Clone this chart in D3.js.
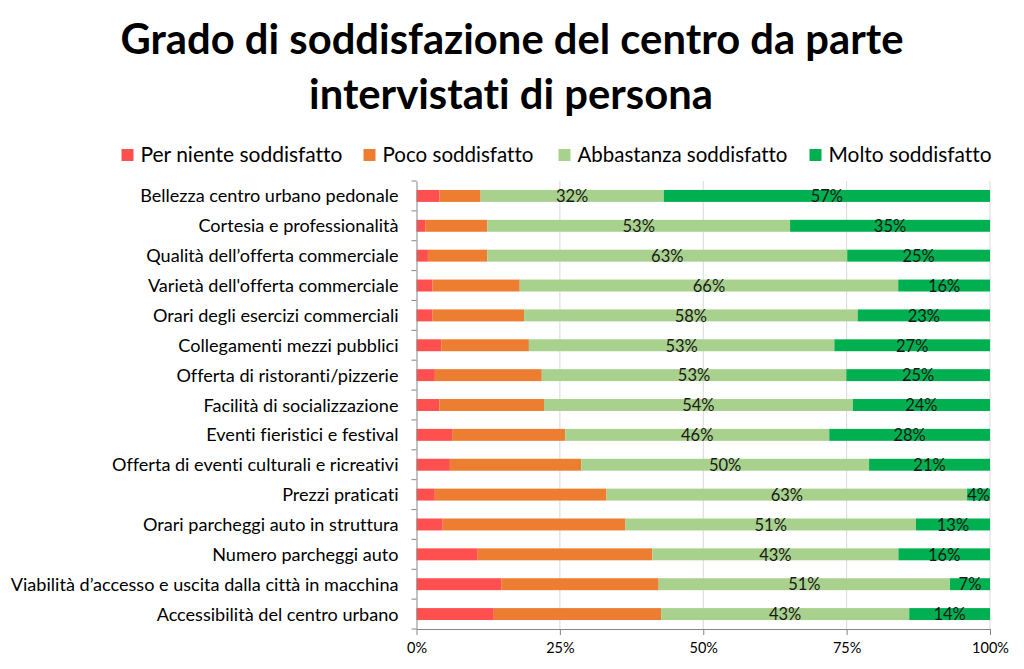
<!DOCTYPE html>
<html>
<head>
<meta charset="utf-8">
<script src="https://cdn.jsdelivr.net/npm/d3@7/dist/d3.min.js"></script>
<style>
  html, body { margin: 0; padding: 0; background: #fff; }
  svg { display: block; font-family: Lato, "Open Sans", sans-serif; font-variant-ligatures: none; font-feature-settings: "liga" 0, "clig" 0; }
</style>
</head>
<body>
<svg id="chart" width="1024" height="669"></svg>
<script>
// ---- data ----
const titleLines = ["Grado di soddisfazione del centro da parte", "intervistati di persona"];
const categories = [
  "Bellezza centro urbano pedonale",
  "Cortesia e professionalità ",
  "Qualità dell\u2019offerta commerciale",
  "Varietà dell'offerta commerciale",
  "Orari degli esercizi commerciali",
  "Collegamenti mezzi pubblici",
  "Offerta di ristoranti/pizzerie",
  "Facilità di socializzazione",
  "Eventi fieristici e festival ",
  "Offerta di eventi culturali e ricreativi",
  "Prezzi praticati",
  "Orari parcheggi auto in struttura",
  "Numero parcheggi auto",
  "Viabilità d\u2019accesso e uscita dalla città in macchina",
  "Accessibilità del centro urbano "
];
const seriesNames = ["Per niente soddisfatto", "Poco soddisfatto", "Abbastanza soddisfatto", "Molto soddisfatto"];
const perNiente  = [4.0, 1.6, 2.0, 2.8, 2.8, 4.3, 3.2, 4.0, 6.2, 5.8, 3.2, 4.6, 10.7, 14.9, 13.4];
const poco       = [7.2, 10.8, 10.4, 15.2, 15.9, 15.2, 18.6, 18.3, 19.7, 22.8, 30.0, 32.1, 30.5, 27.5, 29.0];
const abbastanza = [32, 53, 63, 66, 58, 53, 53, 54, 46, 50, 63, 51, 43, 51, 43];
const molto      = [57, 35, 25, 16, 23, 27, 25, 24, 28, 21, 4, 13, 16, 7, 14];
const xTicks = [0, 0.25, 0.5, 0.75, 1];
const labelledSeries = ["Abbastanza soddisfatto", "Molto soddisfatto"];

const colors = ["#FF4F4F", "#ED7D31", "#A9D18E", "#00B050"];

// ---- build table ----
const seriesArrays = [perNiente, poco, abbastanza, molto];
const rows = categories.map((c, i) => {
  const r = { category: c };
  seriesNames.forEach((s, k) => r[s] = seriesArrays[k][i]);
  return r;
});

const svg = d3.select("#chart");
const plot = { left: 416.5, right: 990, top: 181, bottom: 629 };

const x = d3.scaleLinear().domain([0, 1]).range([plot.left, plot.right]);
const y = d3.scaleBand().domain(categories).range([plot.top, plot.bottom])
  .paddingInner(0.6).paddingOuter(0.3);
const color = d3.scaleOrdinal().domain(seriesNames).range(colors);

const stack = d3.stack().keys(seriesNames).offset(d3.stackOffsetExpand);
const stacked = stack(rows);

// helper to fit text width
function fit(sel, target) {
  sel.each(function() {
    const t = d3.select(this);
    const fs = parseFloat(t.attr("font-size"));
    const len = this.getComputedTextLength();
    if (len > 0) t.attr("font-size", (fs * target / len).toFixed(2));
  });
}

// ---- title ----
const title = svg.append("g");
const t1 = title.append("text").attr("x", 512).attr("y", 54).attr("text-anchor", "middle")
  .attr("font-size", 40).attr("font-weight", "bold").attr("fill", "#000").text(titleLines[0]);
fit(t1, 783);
const t2 = title.append("text").attr("x", 511).attr("y", 109).attr("text-anchor", "middle")
  .attr("font-size", 40).attr("font-weight", "bold").attr("fill", "#000").text(titleLines[1]);
t2.attr("font-size", t1.attr("font-size"));

// ---- legend ----
const legendX = [121.5, 363.5, 558.5, 809.5];
const legendW = [202, 151, 210, 163];
const legend = svg.append("g");
seriesNames.forEach((s, i) => {
  const g = legend.append("g").attr("transform", `translate(${legendX[i]},149)`);
  g.append("rect").attr("width", 12).attr("height", 12).attr("fill", color(s));
  const tx = g.append("text").attr("x", 19).attr("y", 12.5).attr("font-size", 18).attr("fill", "#000").text(s);
  fit(tx, legendW[i]);
});

// ---- gridlines ----
svg.append("g").selectAll("line").data(xTicks.slice(1)).join("line")
  .attr("x1", d => x(d)).attr("x2", d => x(d))
  .attr("y1", plot.top).attr("y2", plot.bottom)
  .attr("stroke", "#D9D9D9").attr("stroke-width", 1);

// ---- bars ----
const bars = svg.append("g");
bars.selectAll("g").data(stacked).join("g")
  .attr("fill", d => color(d.key))
  .selectAll("rect").data(d => d).join("rect")
  .attr("x", d => x(d[0]))
  .attr("width", d => x(d[1]) - x(d[0]))
  .attr("y", d => y(d.data.category))
  .attr("height", y.bandwidth());

// ---- data labels ----
const labels = svg.append("g").attr("font-size", 16.5).attr("fill", "#1a1a1a").attr("text-anchor", "middle");
stacked.filter(s => labelledSeries.includes(s.key)).forEach(s => {
  labels.selectAll(null).data(s).join("text")
    .attr("x", d => (x(d[0]) + x(d[1])) / 2)
    .attr("y", d => y(d.data.category) + y.bandwidth() / 2)
    .attr("dy", "0.38em")
    .text(d => Math.round(d.data[s.key]) + "%");
});

// ---- y axis ----
const yAxis = svg.append("g").attr("transform", `translate(${plot.left},0)`)
  .call(d3.axisLeft(y).tickSize(0).tickPadding(18));
yAxis.select(".domain").attr("stroke", "#868686");
const yText = yAxis.selectAll(".tick text").attr("font-size", 15.5).attr("fill", "#000")
  .attr("font-family", "Lato, sans-serif").attr("dy", "0.36em");
// scale all category labels so that the longest one matches the reference width
let maxLen = 0;
yText.each(function() { maxLen = Math.max(maxLen, this.getComputedTextLength()); });
yText.attr("font-size", (15.5 * 388 / maxLen).toFixed(2));
// boundary ticks
const bounds = d3.range(categories.length + 1).map(i => plot.top + i * y.step());
yAxis.selectAll(".btick").data(bounds).join("line").attr("class", "btick")
  .attr("x1", -5).attr("x2", 0).attr("y1", d => d).attr("y2", d => d)
  .attr("stroke", "#868686");

// ---- x axis ----
const xAxis = svg.append("g").attr("transform", `translate(0,${plot.bottom})`)
  .call(d3.axisBottom(x).tickValues(xTicks).tickFormat(d3.format(".0%")).tickSize(6).tickPadding(8).tickSizeOuter(0));
xAxis.select(".domain").attr("stroke", "#868686");
xAxis.selectAll(".tick line").attr("stroke", "#868686");
xAxis.selectAll(".tick text").attr("font-size", 14.5).attr("fill", "#000").attr("font-family", "Lato, sans-serif");
</script>
</body>
</html>
